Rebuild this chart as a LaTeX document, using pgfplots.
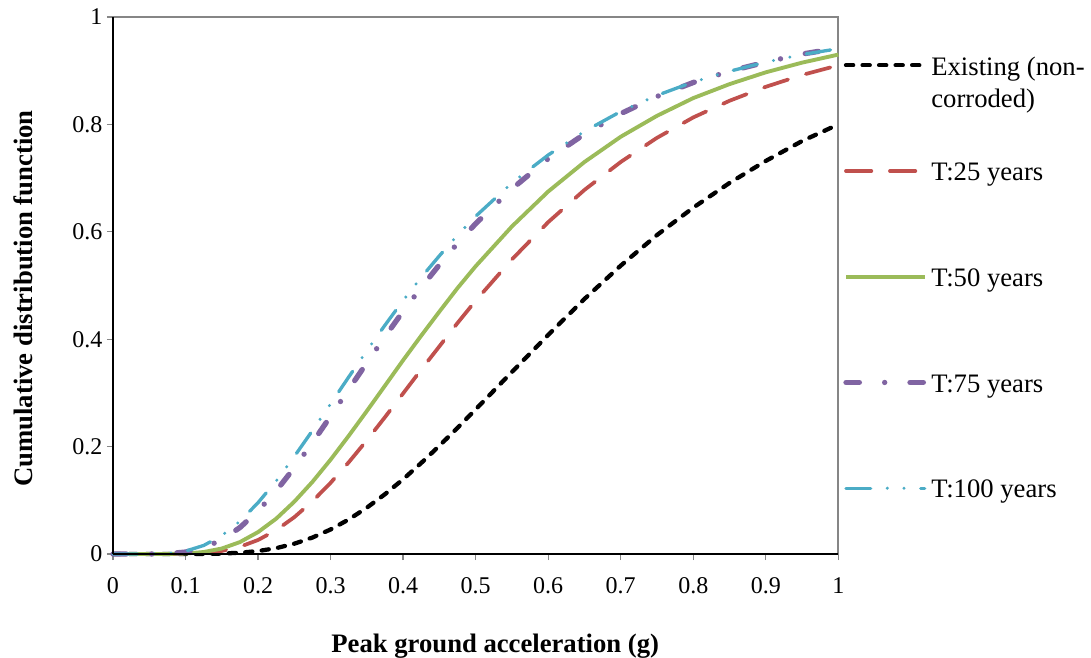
\documentclass[border=0pt]{standalone}
\usepackage{pgfplots}
\usepackage{pgfplotstable}
\pgfplotsset{compat=1.18}
\usepackage{fontspec}
\setmainfont{Liberation Serif}
\definecolor{cred}{HTML}{C0504D}
\definecolor{cgreen}{HTML}{9BBB59}
\definecolor{cpurple}{HTML}{8064A2}
\definecolor{ccyan}{HTML}{4BACC6}
\definecolor{framegray}{HTML}{868686}

\pgfplotstableread{
x y
0 0
0.025 0
0.05 0
0.075 0
0.1 0.00003
0.125 0.0002
0.15 0.0008
0.175 0.0024
0.2 0.0055
0.225 0.0109
0.25 0.0192
0.275 0.0307
0.3 0.0457
0.325 0.0643
0.35 0.0863
0.375 0.1114
0.4 0.1392
0.425 0.1696
0.45 0.2016
0.475 0.2349
0.5 0.2693
0.55 0.339
0.6 0.408
0.65 0.475
0.7 0.537
0.75 0.594
0.8 0.645
0.85 0.691
0.9 0.732
0.95 0.769
1.0 0.800
}\existing

\pgfplotstableread{
x y
0 0
0.025 0
0.05 0
0.075 0.00004
0.1 0.0004
0.125 0.0019
0.15 0.0057
0.175 0.0134
0.2 0.0261
0.225 0.0444
0.25 0.0686
0.275 0.0982
0.3 0.1326
0.325 0.1708
0.35 0.2118
0.375 0.2549
0.4 0.2991
0.425 0.3435
0.45 0.3867
0.475 0.4302
0.5 0.4717
0.55 0.5486
0.6 0.618
0.65 0.678
0.7 0.730
0.75 0.775
0.8 0.813
0.85 0.844
0.9 0.870
0.95 0.892
1.0 0.910
}\tyf

\pgfplotstableread{
x y
0 0
0.025 0
0.05 0
0.075 0.0001
0.1 0.0009
0.125 0.0037
0.15 0.0102
0.175 0.0222
0.2 0.0408
0.225 0.0658
0.25 0.0975
0.275 0.1344
0.3 0.1757
0.325 0.2201
0.35 0.2663
0.375 0.3135
0.4 0.3609
0.425 0.4067
0.45 0.4514
0.475 0.4952
0.5 0.5359
0.55 0.610
0.6 0.675
0.65 0.730
0.7 0.777
0.75 0.816
0.8 0.849
0.85 0.875
0.9 0.897
0.95 0.915
1.0 0.930
}\tfifty

\pgfplotstableread{
x y
0 0
0.025 0
0.05 0.00004
0.075 0.0006
0.1 0.0036
0.125 0.0115
0.15 0.0264
0.175 0.0493
0.2 0.0802
0.225 0.1176
0.25 0.1608
0.275 0.2075
0.3 0.2566
0.325 0.3066
0.35 0.3561
0.375 0.4048
0.4 0.4520
0.425 0.4964
0.45 0.5386
0.475 0.5785
0.5 0.6152
0.55 0.680
0.6 0.736
0.65 0.782
0.7 0.820
0.75 0.852
0.8 0.878
0.85 0.899
0.9 0.916
0.95 0.931
1.0 0.942
}\tsf

\pgfplotstableread{
x y
0 0
0.025 0
0.05 0.0001
0.075 0.0011
0.1 0.0054
0.125 0.0159
0.15 0.0343
0.175 0.0610
0.2 0.0956
0.225 0.1361
0.25 0.1817
0.275 0.2299
0.3 0.2797
0.325 0.3296
0.35 0.3787
0.375 0.4262
0.4 0.4721
0.425 0.5152
0.45 0.5553
0.475 0.5937
0.5 0.6289
0.55 0.691
0.6 0.743
0.65 0.787
0.7 0.824
0.75 0.854
0.8 0.879
0.85 0.899
0.9 0.916
0.95 0.930
1.0 0.941
}\thundred

\begin{document}
\begin{tikzpicture}
\useasboundingbox (-84.75pt,-77.25pt) rectangle (733.5pt,415.5pt);
\begin{axis}[
  at={(0pt,0pt)}, anchor=south west,
  scale only axis, width=544pt, height=402.75pt,
  xmin=0, xmax=1, ymin=0, ymax=1,
  xtick={0,0.1,0.2,0.3,0.4,0.5,0.6,0.7,0.8,0.9,1},
  ytick={0,0.2,0.4,0.6,0.8,1},
  xtick pos=left, ytick pos=left,
  tick align=outside,
  major tick length=4.5pt,
  tick style={framegray, line width=1pt},
  axis line style={framegray, line width=1.4pt},
  /pgf/number format/assume math mode=true,
  tick label style={font=\fontsize{18}{20}\selectfont},
  xticklabel style={yshift=-9.5pt},
  label style={font=\bfseries\fontsize{20}{24}\selectfont},
  xlabel={Peak ground acceleration (g)},
  ylabel={Cumulative distribution function},
  xlabel style={at={(axis description cs:0.527,-0.1825)}, anchor=base},
  ylabel style={at={(axis description cs:-0.1103,0.476)}, anchor=base},
  clip=false,
  legend style={draw=none, fill=none, at={(axis description cs:1,1)}, anchor=north west,
    xshift=3.75pt, yshift=-29.5pt, inner sep=0pt, outer sep=0pt,
    row sep=60.8pt, column sep=3pt,
    font=\fontsize{20}{24}\selectfont,
    cells={anchor=base west},
    nodes={inner sep=0pt, text height=14pt, text depth=4.5pt}},
  legend image code/.code={\draw[#1, yshift=7.3pt] (0pt,0pt) -- (59pt,0pt);},
  after end axis/.code={
    \draw[black, line width=1.4pt] (rel axis cs:0,0) -- (rel axis cs:0,1);
    \draw[black, line width=1.4pt] (rel axis cs:0,0) -- (rel axis cs:1,0);
  },
]
\addplot[black, no markers, line width=3.2pt, line cap=round, line join=round,
  dash pattern=on 5.4pt off 7pt] table {\existing};
\addlegendentry{\parbox[t]{5cm}{Existing (non-\\corroded)}}
\addplot[cred, no markers, line width=2.8pt, line cap=round, line join=round,
  dash pattern=on 19pt off 14pt] table {\tyf};
\addlegendentry{T:25 years}
\addplot[cgreen, no markers, line width=2.9pt, line join=round] table {\tfifty};
\addlegendentry{T:50 years}
\addplot[cpurple, no markers, line width=4pt, line cap=round, line join=round,
  dash pattern=on 10pt off 19pt on 0pt off 19pt] table {\tsf};
\addlegendentry{T:75 years}
\addplot[ccyan, no markers, line width=2.5pt, line cap=round, line join=round,
  dash pattern=on 18.5pt off 12.5pt on 0pt off 12.5pt on 0pt off 12.5pt] table {\thundred};
\addlegendentry{T:100 years}
\end{axis}
\end{tikzpicture}
\end{document}
